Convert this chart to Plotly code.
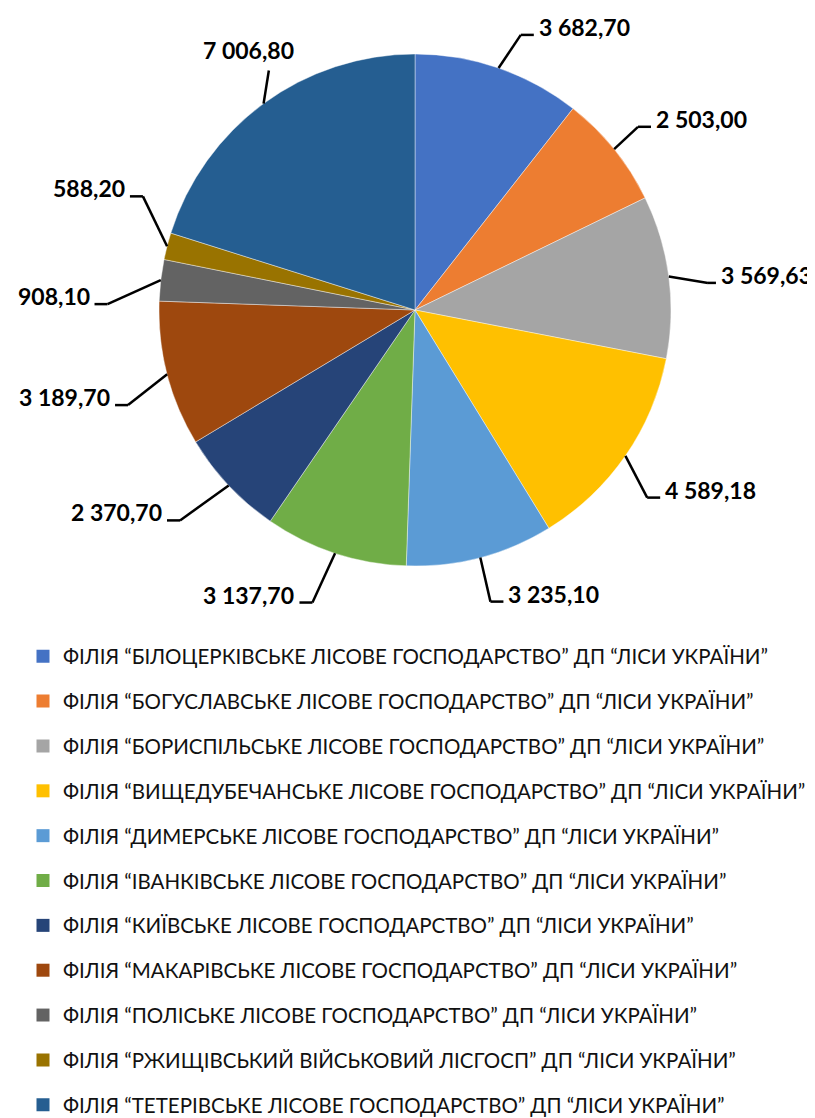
import math
import plotly.graph_objects as go

categories = [
    "ФІЛІЯ “БІЛОЦЕРКІВСЬКЕ ЛІСОВЕ ГОСПОДАРСТВО” ДП “ЛІСИ УКРАЇНИ”",
    "ФІЛІЯ “БОГУСЛАВСЬКЕ ЛІСОВЕ ГОСПОДАРСТВО” ДП “ЛІСИ УКРАЇНИ”",
    "ФІЛІЯ “БОРИСПІЛЬСЬКЕ ЛІСОВЕ ГОСПОДАРСТВО” ДП “ЛІСИ УКРАЇНИ”",
    "ФІЛІЯ “ВИЩЕДУБЕЧАНСЬКЕ ЛІСОВЕ ГОСПОДАРСТВО” ДП “ЛІСИ УКРАЇНИ”",
    "ФІЛІЯ “ДИМЕРСЬКЕ ЛІСОВЕ ГОСПОДАРСТВО” ДП “ЛІСИ УКРАЇНИ”",
    "ФІЛІЯ “ІВАНКІВСЬКЕ ЛІСОВЕ ГОСПОДАРСТВО” ДП “ЛІСИ УКРАЇНИ”",
    "ФІЛІЯ “КИЇВСЬКЕ ЛІСОВЕ ГОСПОДАРСТВО” ДП “ЛІСИ УКРАЇНИ”",
    "ФІЛІЯ “МАКАРІВСЬКЕ ЛІСОВЕ ГОСПОДАРСТВО” ДП “ЛІСИ УКРАЇНИ”",
    "ФІЛІЯ “ПОЛІСЬКЕ ЛІСОВЕ ГОСПОДАРСТВО” ДП “ЛІСИ УКРАЇНИ”",
    "ФІЛІЯ “РЖИЩІВСЬКИЙ ВІЙСЬКОВИЙ ЛІСГОСП” ДП “ЛІСИ УКРАЇНИ”",
    "ФІЛІЯ “ТЕТЕРІВСЬКЕ ЛІСОВЕ ГОСПОДАРСТВО” ДП “ЛІСИ УКРАЇНИ”",
]
values = [3682.70, 2503.00, 3569.63, 4589.18, 3235.10, 3137.70,
          2370.70, 3189.70, 908.10, 588.20, 7006.80]
colors = ["#4472C4", "#ED7D31", "#A5A5A5", "#FFC000", "#5B9BD5", "#70AD47",
          "#264478", "#9E480E", "#636363", "#997300", "#255E91"]

# ---- layout / style (pixels on the page) ----
W, H = 815, 1118
OFF = 8  # default page margin around the plot div
CX, CY, R = 415, 310, 256
ELBOW_R = 1.17
# per-label nudges of the leader-line elbow (px), and horizontal segment length
label_nudge = [(8, 8), (-10, 5), (-4, 12), (-14, 17), (-1, 2), (-9, 8),
               (-17, 5), (3, 20), (-10, 29), (18, -39), (31, 2)]
seg_len = [13, 13, 8, 13, 13, 13, 13, 13, 13, 13, 0]
LABEL_FONT = dict(family="Lato", size=23, color="black", weight="bold")


def px(x):
    return (x - OFF) / W


def py(y):
    return 1 - (y - OFF) / H


def fmt(v):
    return f"{v:,.2f}".replace(",", " ").replace(".", ",")


fig = go.Figure()
fig.add_trace(go.Pie(
    labels=categories, values=values, sort=False, direction="clockwise",
    rotation=0, marker=dict(colors=colors, line=dict(color="rgba(255,255,255,0.6)", width=0.7)),
    textinfo="none", showlegend=False, hoverinfo="label+value",
    domain=dict(x=[px(CX - R), px(CX + R)], y=[py(CY + R), py(CY - R)]),
))

# legend via proxy traces (one group per category to control spacing)
for i, (cat, col) in enumerate(zip(categories, colors)):
    fig.add_trace(go.Scatter(
        x=[None], y=[None], mode="markers", name=cat, legendgroup=str(i),
        marker=dict(symbol="square", size=13, color=col), hoverinfo="skip"))

total = sum(values)
cum = 0.0
shapes = []
annotations = []
for i, v in enumerate(values):
    mid = (cum + v / 2) / total * 2 * math.pi
    cum += v
    sx, sy = CX + R * math.sin(mid), CY - R * math.cos(mid)
    ex = CX + ELBOW_R * R * math.sin(mid) + label_nudge[i][0]
    ey = CY - ELBOW_R * R * math.cos(mid) + label_nudge[i][1]
    line = dict(color="black", width=2.5)
    shapes.append(dict(type="line", xref="paper", yref="paper",
                       x0=px(sx), y0=py(sy), x1=px(ex), y1=py(ey), line=line))
    right = math.sin(mid) >= 0
    if seg_len[i] > 0:
        hx = ex + seg_len[i] if right else ex - seg_len[i]
        shapes.append(dict(type="line", xref="paper", yref="paper",
                           x0=px(ex), y0=py(ey), x1=px(hx), y1=py(ey), line=line))
        annotations.append(dict(
            x=px(hx + (3 if right else -3)), y=py(ey - 8), xref="paper", yref="paper",
            text=fmt(v), showarrow=False, xanchor="left" if right else "right",
            yanchor="middle", font=LABEL_FONT))
    else:
        annotations.append(dict(
            x=px(ex - 20), y=py(ey - 4), xref="paper", yref="paper",
            text=fmt(v), showarrow=False, xanchor="center", yanchor="bottom",
            font=LABEL_FONT))

fig.update_layout(
    width=W, height=H, margin=dict(l=0, r=0, t=0, b=0),
    paper_bgcolor="white", plot_bgcolor="white",
    xaxis=dict(visible=False), yaxis=dict(visible=False),
    shapes=shapes, annotations=annotations,
    legend=dict(x=px(23), y=0.0005, xanchor="left", yanchor="bottom",
                traceorder="grouped", tracegroupgap=15.2,
                font=dict(family="Lato", size=20.5, color="#111111"),
                itemclick=False, itemdoubleclick=False, bgcolor="rgba(0,0,0,0)"),
)
fig.write_html("out.html")
